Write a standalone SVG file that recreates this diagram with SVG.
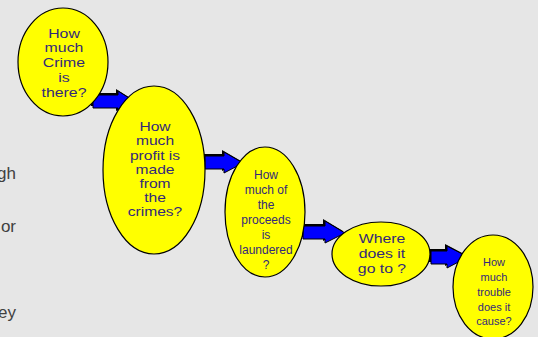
<svg xmlns="http://www.w3.org/2000/svg" width="538" height="337" viewBox="0 0 538 337">
<style>
.n{fill:#ffff00;stroke:#000;stroke-width:1.2}
.t{font-family:"Liberation Sans",Arial,sans-serif;fill:#33297a;text-anchor:middle}
.side{font-family:"Liberation Sans",Arial,sans-serif;font-size:17px;fill:#404040;text-anchor:end}
.ar{fill:#0000ff;stroke:#000;stroke-width:1}
.sh{fill:#000}
</style>
<rect width="538" height="337" fill="#e6e6e6"/>
<text class="side" x="16" y="179">gh</text>
<text class="side" x="16" y="232">or</text>
<text class="side" x="16" y="318">ey</text>
<g id="connectors">
<g id="a1">
<path class="sh" d="M91,93 H116 V89 L135,101 L116,111 V106 H91 Z"/>
<path class="ar" d="M93,95 H118 V91 L137,103 L118,113 V108 H93 Z"/>
</g>
<g id="a2">
<path class="sh" d="M203,154 H222 V150 L241,161 L222,171 V167 H203 Z"/>
<path class="ar" d="M205,156 H224 V152 L243,163 L224,173 V169 H205 Z"/>
</g>
<g id="a3">
<path class="sh" d="M301,224 H323 V219 L343,231 L323,241 V237 H301 Z"/>
<path class="ar" d="M303,226 H325 V221 L345,233 L325,243 V239 H303 Z"/>
</g>
<g id="a4">
<path class="sh" d="M429,249 H445 V244 L466,255 L445,266 V262 H429 Z"/>
<path class="ar" d="M431,251 H447 V246 L468,257 L447,268 V264 H431 Z"/>
</g>
</g>
<g id="n1">
<ellipse class="n" cx="63" cy="62" rx="45" ry="54"/>
<g class="t" font-size="13" transform="translate(64 0) scale(1.22 1)">
<text x="0" y="38">How</text>
<text x="0" y="52.5">much</text>
<text x="0" y="67.5">Crime</text>
<text x="0" y="82.5">is</text>
<text x="0" y="97">there?</text>
</g>
</g>
<g id="n2">
<ellipse class="n" cx="154" cy="170" rx="51" ry="84"/>
<g class="t" font-size="13" transform="translate(155 0) scale(1.2 1)">
<text x="0" y="131">How</text>
<text x="0" y="145.5">much</text>
<text x="0" y="160">profit is</text>
<text x="0" y="174">made</text>
<text x="0" y="188">from</text>
<text x="0" y="202">the</text>
<text x="0" y="216">crimes?</text>
</g>
</g>
<g id="n3">
<ellipse class="n" cx="265" cy="212" rx="40" ry="65"/>
<g class="t" font-size="12">
<text x="266" y="179">How</text>
<text x="266" y="194">much of</text>
<text x="266" y="209">the</text>
<text x="266" y="224">proceeds</text>
<text x="266" y="239">is</text>
<text x="266" y="254">laundered</text>
<text x="266" y="269">?</text>
</g>
</g>
<g id="n4">
<ellipse class="n" cx="381" cy="254" rx="49" ry="32"/>
<g class="t" font-size="13.5" transform="translate(382 0) scale(1.17 1)">
<text x="0" y="243">Where</text>
<text x="0" y="258">does it</text>
<text x="0" y="273">go to ?</text>
</g>
</g>
<g id="n5">
<ellipse class="n" cx="493" cy="287" rx="40" ry="52"/>
<g class="t" font-size="11">
<text x="494" y="266">How</text>
<text x="494" y="281">much</text>
<text x="494" y="296">trouble</text>
<text x="494" y="311">does it</text>
<text x="494" y="325">cause?</text>
</g>
</g>
</svg>
